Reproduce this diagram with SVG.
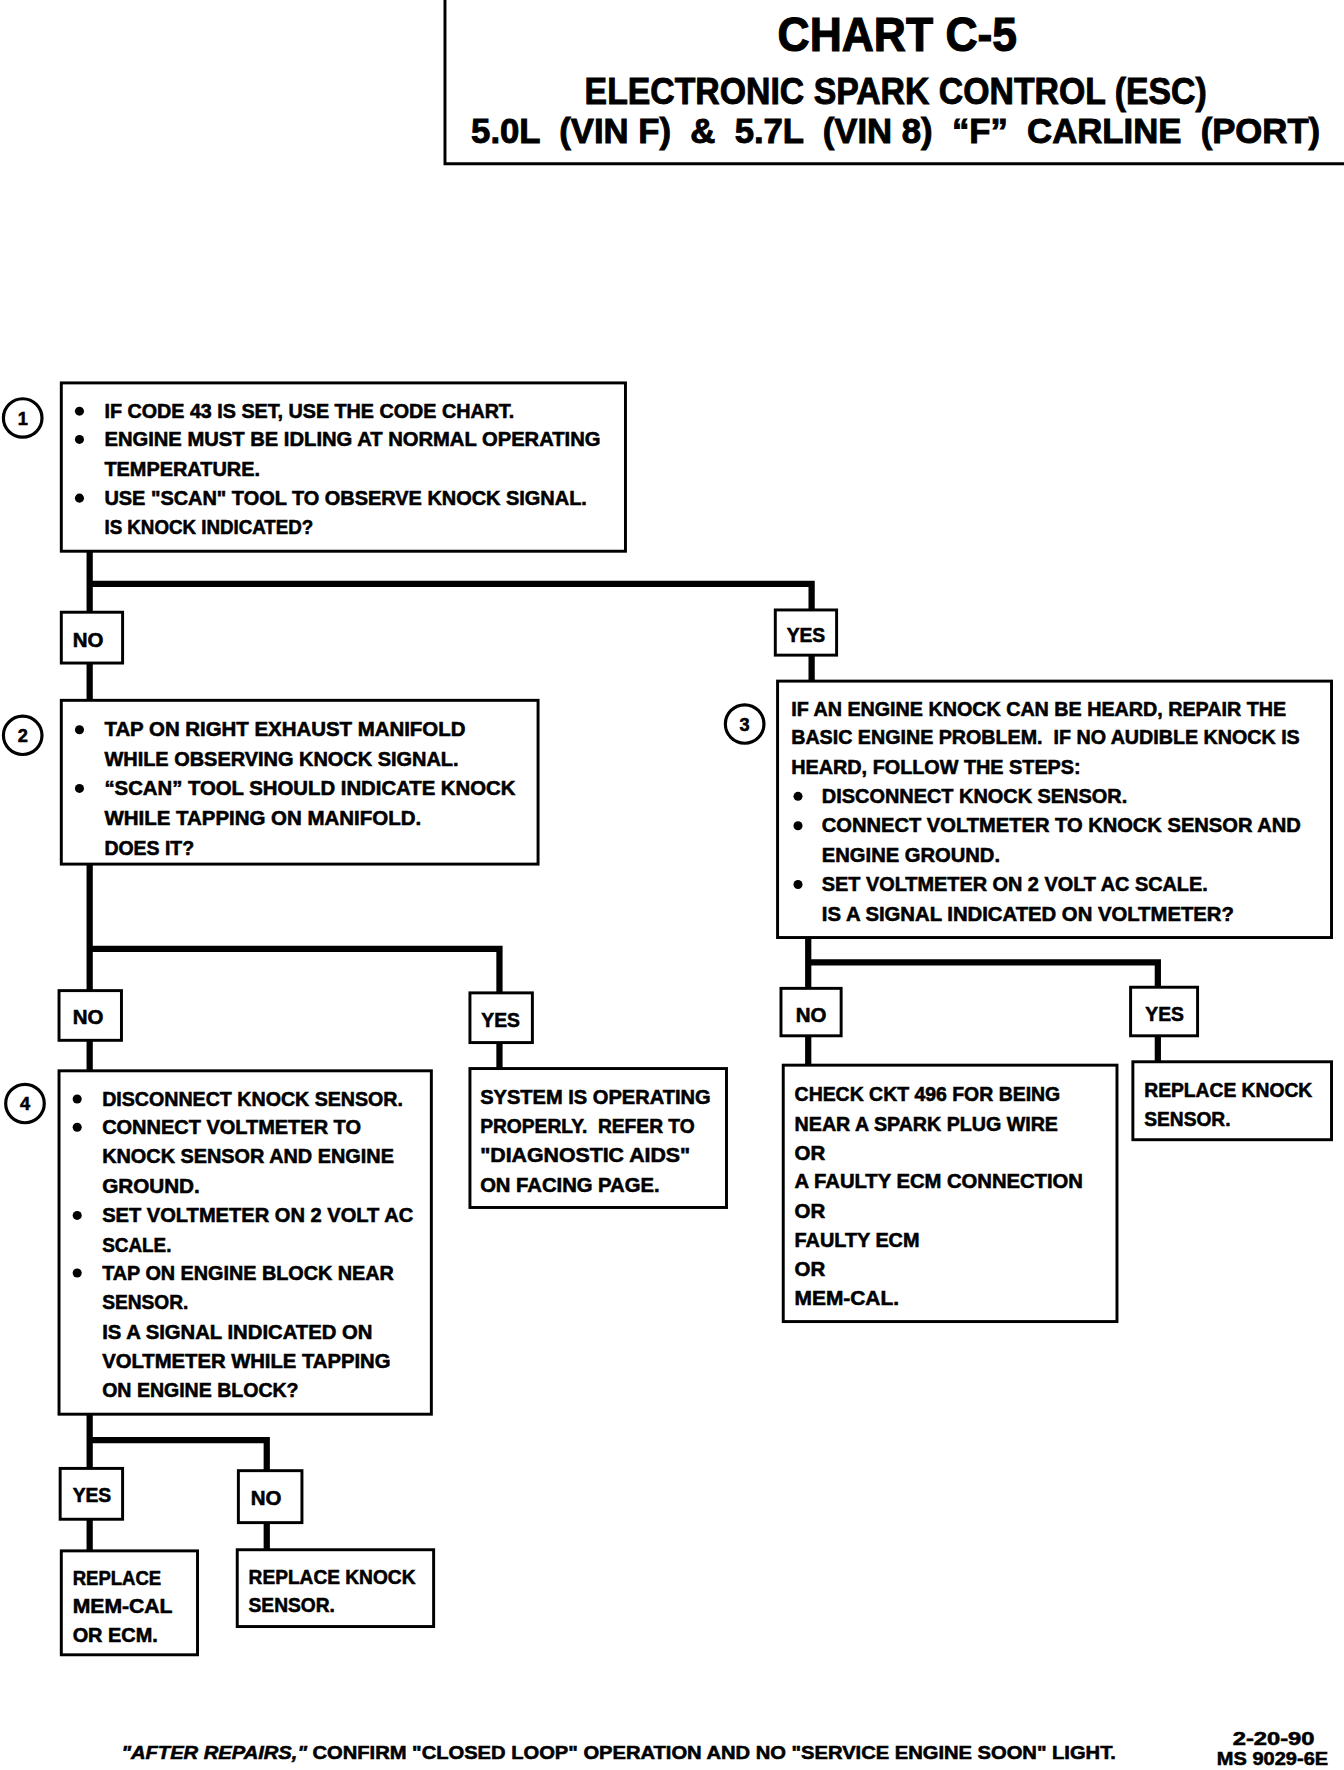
<svg xmlns="http://www.w3.org/2000/svg" width="1344" height="1770" viewBox="0 0 1344 1770">
<style>
text{font-family:"Liberation Sans","DejaVu Sans",sans-serif;font-weight:bold;fill:#000;stroke:#000;stroke-width:0.5}
.t{font-size:17.5px}
.h1{font-size:42px;stroke-width:1}
.h2{font-size:32px;stroke-width:0.8}
.h3{font-size:30.5px;stroke-width:0.8}
.box{fill:#fff;stroke:#000;stroke-width:2.6}
.lbl{fill:#fff;stroke:#000;stroke-width:2.6}
.con{fill:none;stroke:#000;stroke-width:5.5;stroke-linejoin:miter;stroke-linecap:butt}
.cir{fill:#fff;stroke:#000;stroke-width:2.8}
.num{font-size:16px}
.ft{font-size:16.5px}
</style>
<rect width="1344" height="1770" fill="#fff"/>
<g transform="scale(1.13514,1.12955)">
<g id="header">
<path d="M392,0 V145 H1184" fill="none" stroke="#000" stroke-width="2.6"/>
<text class="h1" x="685" y="45" textLength="211" lengthAdjust="spacingAndGlyphs">CHART C-5</text>
<text class="h2" x="515" y="92" textLength="548" lengthAdjust="spacingAndGlyphs">ELECTRONIC SPARK CONTROL (ESC)</text>
<text class="h3" x="415" y="127" textLength="748" lengthAdjust="spacingAndGlyphs" xml:space="preserve">5.0L  (VIN F)  &amp;  5.7L  (VIN 8)  “F”  CARLINE  (PORT)</text>
</g>
<g id="connectors">
<path class="con" d="M79,488 V620"/>
<path class="con" d="M79,517 H715 V603"/>
<path class="con" d="M79,765 V948"/>
<path class="con" d="M79,840 H440 V946"/>
<path class="con" d="M712,830 V943"/>
<path class="con" d="M712,852 H1020 V940"/>
<path class="con" d="M79,1252 V1373"/>
<path class="con" d="M79,1275 H235 V1372"/>
</g>
<g id="step1">
<circle class="cir" cx="20" cy="370" r="17"/>
<text class="num" x="20" y="376" text-anchor="middle">1</text>
<rect class="box" x="54" y="339" width="497" height="149"/>
<circle cx="70" cy="364" r="4"/><circle cx="70" cy="389" r="4"/><circle cx="70" cy="441" r="4"/>
<text class="t" x="92" y="370" textLength="361" lengthAdjust="spacingAndGlyphs">IF CODE 43 IS SET, USE THE CODE CHART.</text>
<text class="t" x="92" y="395" textLength="437" lengthAdjust="spacingAndGlyphs">ENGINE MUST BE IDLING AT NORMAL OPERATING</text>
<text class="t" x="92" y="421" textLength="137" lengthAdjust="spacingAndGlyphs">TEMPERATURE.</text>
<text class="t" x="92" y="447" textLength="425" lengthAdjust="spacingAndGlyphs">USE "SCAN" TOOL TO OBSERVE KNOCK SIGNAL.</text>
<text class="t" x="92" y="473" textLength="184" lengthAdjust="spacingAndGlyphs">IS KNOCK INDICATED?</text>
</g>
<g id="no1">
<rect class="lbl" x="54" y="542" width="54" height="45"/>
<text class="t" x="64" y="573" textLength="27" lengthAdjust="spacingAndGlyphs">NO</text>
</g>
<g id="yes1">
<rect class="lbl" x="683" y="540" width="54" height="40"/>
<text class="t" x="693" y="568" textLength="34" lengthAdjust="spacingAndGlyphs">YES</text>
</g>
<g id="step2">
<circle class="cir" cx="20" cy="651" r="17"/>
<text class="num" x="20" y="657" text-anchor="middle">2</text>
<rect class="box" x="54" y="620" width="420" height="145"/>
<circle cx="70" cy="646" r="4"/><circle cx="70" cy="698" r="4"/>
<text class="t" x="92" y="652" textLength="318" lengthAdjust="spacingAndGlyphs">TAP ON RIGHT EXHAUST MANIFOLD</text>
<text class="t" x="92" y="678" textLength="312" lengthAdjust="spacingAndGlyphs">WHILE OBSERVING KNOCK SIGNAL.</text>
<text class="t" x="92" y="704" textLength="362" lengthAdjust="spacingAndGlyphs">“SCAN” TOOL SHOULD INDICATE KNOCK</text>
<text class="t" x="92" y="730" textLength="279" lengthAdjust="spacingAndGlyphs">WHILE TAPPING ON MANIFOLD.</text>
<text class="t" x="92" y="757" textLength="79" lengthAdjust="spacingAndGlyphs">DOES IT?</text>
</g>
<g id="step3">
<circle class="cir" cx="656" cy="641" r="17"/>
<text class="num" x="656" y="647" text-anchor="middle">3</text>
<rect class="box" x="685" y="603" width="488" height="227"/>
<text class="t" x="697" y="634" textLength="436" lengthAdjust="spacingAndGlyphs">IF AN ENGINE KNOCK CAN BE HEARD, REPAIR THE</text>
<text class="t" x="697" y="659" textLength="448" lengthAdjust="spacingAndGlyphs" xml:space="preserve">BASIC ENGINE PROBLEM.  IF NO AUDIBLE KNOCK IS</text>
<text class="t" x="697" y="685" textLength="255" lengthAdjust="spacingAndGlyphs">HEARD, FOLLOW THE STEPS:</text>
<circle cx="703" cy="705" r="4"/><circle cx="703" cy="731" r="4"/><circle cx="703" cy="783" r="4"/>
<text class="t" x="724" y="711" textLength="269" lengthAdjust="spacingAndGlyphs">DISCONNECT KNOCK SENSOR.</text>
<text class="t" x="724" y="737" textLength="422" lengthAdjust="spacingAndGlyphs">CONNECT VOLTMETER TO KNOCK SENSOR AND</text>
<text class="t" x="724" y="763" textLength="157" lengthAdjust="spacingAndGlyphs">ENGINE GROUND.</text>
<text class="t" x="724" y="789" textLength="340" lengthAdjust="spacingAndGlyphs">SET VOLTMETER ON 2 VOLT AC SCALE.</text>
<text class="t" x="724" y="815" textLength="363" lengthAdjust="spacingAndGlyphs">IS A SIGNAL INDICATED ON VOLTMETER?</text>
</g>
<g id="no2">
<rect class="lbl" x="52" y="877" width="55" height="44"/>
<text class="t" x="64" y="907" textLength="27" lengthAdjust="spacingAndGlyphs">NO</text>
</g>
<g id="yes2">
<rect class="lbl" x="414" y="879" width="55" height="44"/>
<text class="t" x="424" y="909" textLength="34" lengthAdjust="spacingAndGlyphs">YES</text>
</g>
<g id="no3">
<rect class="lbl" x="688" y="875" width="53" height="42"/>
<text class="t" x="701" y="905" textLength="27" lengthAdjust="spacingAndGlyphs">NO</text>
</g>
<g id="yes3">
<rect class="lbl" x="996" y="874" width="59" height="43"/>
<text class="t" x="1009" y="904" textLength="34" lengthAdjust="spacingAndGlyphs">YES</text>
</g>
<g id="step4">
<circle class="cir" cx="22" cy="977" r="17"/>
<text class="num" x="22" y="983" text-anchor="middle">4</text>
<rect class="box" x="52" y="948" width="328" height="304"/>
<circle cx="68" cy="973" r="4"/><circle cx="68" cy="998" r="4"/><circle cx="68" cy="1076" r="4"/><circle cx="68" cy="1127" r="4"/>
<text class="t" x="90" y="979" textLength="265" lengthAdjust="spacingAndGlyphs">DISCONNECT KNOCK SENSOR.</text>
<text class="t" x="90" y="1004" textLength="228" lengthAdjust="spacingAndGlyphs">CONNECT VOLTMETER TO</text>
<text class="t" x="90" y="1030" textLength="257" lengthAdjust="spacingAndGlyphs">KNOCK SENSOR AND ENGINE</text>
<text class="t" x="90" y="1056" textLength="86" lengthAdjust="spacingAndGlyphs">GROUND.</text>
<text class="t" x="90" y="1082" textLength="274" lengthAdjust="spacingAndGlyphs">SET VOLTMETER ON 2 VOLT AC</text>
<text class="t" x="90" y="1108" textLength="61" lengthAdjust="spacingAndGlyphs">SCALE.</text>
<text class="t" x="90" y="1133" textLength="257" lengthAdjust="spacingAndGlyphs">TAP ON ENGINE BLOCK NEAR</text>
<text class="t" x="90" y="1159" textLength="76" lengthAdjust="spacingAndGlyphs">SENSOR.</text>
<text class="t" x="90" y="1185" textLength="238" lengthAdjust="spacingAndGlyphs">IS A SIGNAL INDICATED ON</text>
<text class="t" x="90" y="1211" textLength="254" lengthAdjust="spacingAndGlyphs">VOLTMETER WHILE TAPPING</text>
<text class="t" x="90" y="1237" textLength="173" lengthAdjust="spacingAndGlyphs">ON ENGINE BLOCK?</text>
</g>
<g id="system-ok">
<rect class="box" x="414" y="946" width="226" height="123"/>
<text class="t" x="423" y="977" textLength="203" lengthAdjust="spacingAndGlyphs">SYSTEM IS OPERATING</text>
<text class="t" x="423" y="1003" textLength="189" lengthAdjust="spacingAndGlyphs" xml:space="preserve">PROPERLY.  REFER TO</text>
<text class="t" x="423" y="1029" textLength="185" lengthAdjust="spacingAndGlyphs">"DIAGNOSTIC AIDS"</text>
<text class="t" x="423" y="1055" textLength="158" lengthAdjust="spacingAndGlyphs">ON FACING PAGE.</text>
</g>
<g id="check-ckt">
<rect class="box" x="690" y="943" width="294" height="227"/>
<text class="t" x="700" y="975" textLength="234" lengthAdjust="spacingAndGlyphs">CHECK CKT 496 FOR BEING</text>
<text class="t" x="700" y="1001" textLength="232" lengthAdjust="spacingAndGlyphs">NEAR A SPARK PLUG WIRE</text>
<text class="t" x="700" y="1027" textLength="27" lengthAdjust="spacingAndGlyphs">OR</text>
<text class="t" x="700" y="1052" textLength="254" lengthAdjust="spacingAndGlyphs">A FAULTY ECM CONNECTION</text>
<text class="t" x="700" y="1078" textLength="27" lengthAdjust="spacingAndGlyphs">OR</text>
<text class="t" x="700" y="1104" textLength="110" lengthAdjust="spacingAndGlyphs">FAULTY ECM</text>
<text class="t" x="700" y="1130" textLength="27" lengthAdjust="spacingAndGlyphs">OR</text>
<text class="t" x="700" y="1155" textLength="92" lengthAdjust="spacingAndGlyphs">MEM-CAL.</text>
</g>
<g id="replace-knock-1">
<rect class="box" x="998" y="940" width="175" height="69"/>
<text class="t" x="1008" y="971" textLength="148" lengthAdjust="spacingAndGlyphs">REPLACE KNOCK</text>
<text class="t" x="1008" y="997" textLength="76" lengthAdjust="spacingAndGlyphs">SENSOR.</text>
</g>
<g id="yes4">
<rect class="lbl" x="53" y="1300" width="55" height="45"/>
<text class="t" x="64" y="1330" textLength="34" lengthAdjust="spacingAndGlyphs">YES</text>
</g>
<g id="no4">
<rect class="lbl" x="210" y="1302" width="56" height="46"/>
<text class="t" x="221" y="1332" textLength="27" lengthAdjust="spacingAndGlyphs">NO</text>
</g>
<g id="replace-memcal">
<rect class="box" x="54" y="1373" width="120" height="92"/>
<text class="t" x="64" y="1403" textLength="78" lengthAdjust="spacingAndGlyphs">REPLACE</text>
<text class="t" x="64" y="1428" textLength="88" lengthAdjust="spacingAndGlyphs">MEM-CAL</text>
<text class="t" x="64" y="1454" textLength="75" lengthAdjust="spacingAndGlyphs">OR ECM.</text>
</g>
<g id="replace-knock-2">
<rect class="box" x="209" y="1372" width="173" height="68"/>
<text class="t" x="219" y="1402" textLength="147" lengthAdjust="spacingAndGlyphs">REPLACE KNOCK</text>
<text class="t" x="219" y="1427" textLength="76" lengthAdjust="spacingAndGlyphs">SENSOR.</text>
</g>
<g id="footer">
<text class="ft" x="107" y="1557" textLength="876" lengthAdjust="spacingAndGlyphs"><tspan font-style="italic">"AFTER REPAIRS,"</tspan> CONFIRM "CLOSED LOOP" OPERATION AND NO "SERVICE ENGINE SOON" LIGHT.</text>
<text class="ft" x="1086" y="1545" textLength="72" lengthAdjust="spacingAndGlyphs">2-20-90</text>
<text class="ft" x="1072" y="1563" textLength="98" lengthAdjust="spacingAndGlyphs">MS 9029-6E</text>
</g>
</g>
</svg>
